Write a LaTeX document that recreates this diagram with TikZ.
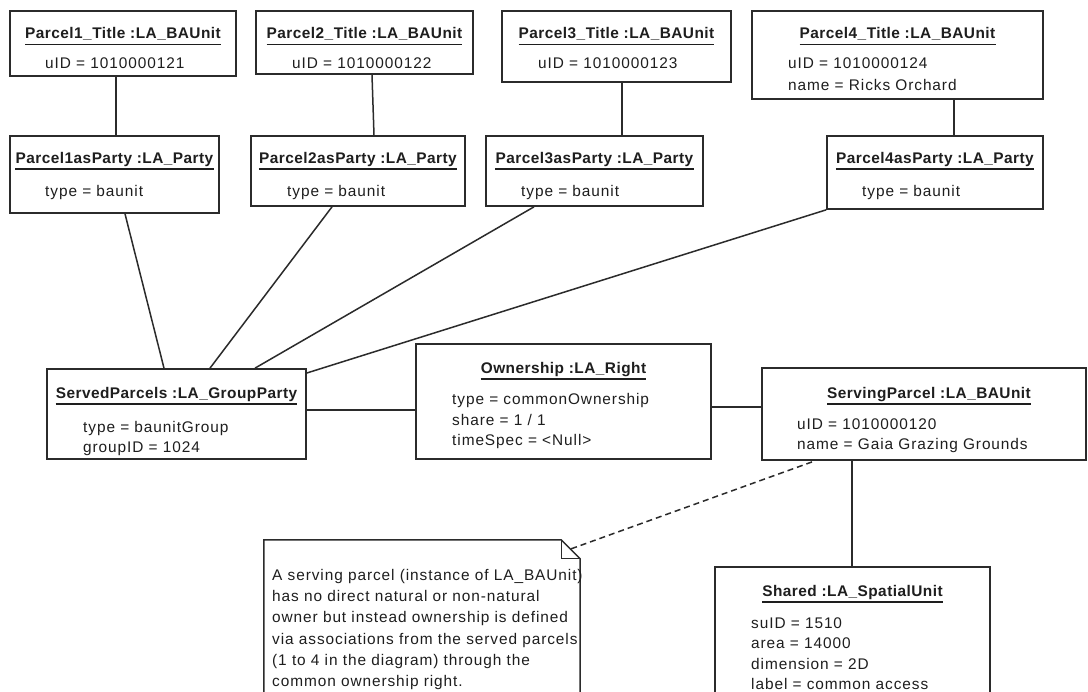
\documentclass[tikz,border=0pt]{standalone}
\usepackage{fontspec}
\setmainfont{Liberation Sans}[LetterSpace=6,BoldFeatures={LetterSpace=3}]
\usetikzlibrary{positioning}
\definecolor{umlline}{HTML}{2B2B2B}
\definecolor{umltext}{HTML}{1E1E1E}

\begin{document}
\begin{tikzpicture}[x=1pt,y=-1pt,
  obj box/.style={draw=umlline,line width=1.7pt,rectangle,inner sep=0pt},
  head/.style={font=\fontsize{15.4}{21}\selectfont\bfseries,text=umltext,inner sep=0pt,anchor=base},
  attr/.style={font=\fontsize{15.4}{21}\selectfont,text=umltext,inner sep=0pt,anchor=base west},
  link/.style={draw=umlline,line width=1.5pt},
  uline/.style={draw=umltext,line width=1.6pt}]
  \useasboundingbox (0,0) rectangle (1088,692);
  \clip (0,0) rectangle (1088,692);
  \fill[white] (0,0) rectangle (1088,692);

  % titles
  \node[obj box,minimum width=226pt,minimum height=65pt] (t1) at (123,43.5) {};
  \node[obj box,minimum width=217pt,minimum height=63pt] (t2) at (364.5,42.5) {};
  \node[obj box,minimum width=229pt,minimum height=71pt] (t3) at (616.5,46.5) {};
  \node[obj box,minimum width=291pt,minimum height=88pt] (t4) at (897.5,55) {};
  \node[head] (t1h) at (123,39) {Parcel1\_Title :LA\_BAUnit};
  \node[head] (t2h) at (364.5,39) {Parcel2\_Title :LA\_BAUnit};
  \node[head] (t3h) at (616.5,39) {Parcel3\_Title :LA\_BAUnit};
  \node[head] (t4h) at (897.5,39) {Parcel4\_Title :LA\_BAUnit};
  \node[attr] (t1a) at (45,68.5) {uID = 1010000121};
  \node[attr] (t2a) at (292,68.5) {uID = 1010000122};
  \node[attr] (t3a) at (538,68.5) {uID = 1010000123};
  \node[attr] (t4a) at (788,68.5) {uID = 1010000124};
  \node[attr] (t4b) at (788,90.5) {name = Ricks Orchard};

  % parties
  \node[obj box,minimum width=209pt,minimum height=77pt] (p1) at (114.5,174.5) {};
  \node[obj box,minimum width=214pt,minimum height=70pt] (p2) at (358,171) {};
  \node[obj box,minimum width=217pt,minimum height=70pt] (p3) at (594.5,171) {};
  \node[obj box,minimum width=216pt,minimum height=73pt] (p4) at (935,172.5) {};
  \node[head] (p1h) at (114.5,163.5) {Parcel1asParty :LA\_Party};
  \node[head] (p2h) at (358,163.5) {Parcel2asParty :LA\_Party};
  \node[head] (p3h) at (594.5,163.5) {Parcel3asParty :LA\_Party};
  \node[head] (p4h) at (935,163.5) {Parcel4asParty :LA\_Party};
  \node[attr] (p1a) at (45,197) {type = baunit};
  \node[attr] (p2a) at (287,197) {type = baunit};
  \node[attr] (p3a) at (521,197) {type = baunit};
  \node[attr] (p4a) at (862,197) {type = baunit};

  % group, right, serving parcel, spatial unit
  \node[obj box,minimum width=259pt,minimum height=90pt] (sp) at (176.5,414) {};
  \node[head] (sph) at (176.5,398.5) {ServedParcels :LA\_GroupParty};
  \node[attr] (spa) at (83,432.5) {type = baunitGroup};
  \node[attr] (spb) at (83,452.5) {groupID = 1024};

  \node[obj box,minimum width=295pt,minimum height=115pt] (ow) at (563.5,401.5) {};
  \node[head] (owh) at (563.5,373.5) {Ownership :LA\_Right};
  \node[attr] (owa) at (452,404.5) {type = commonOwnership};
  \node[attr] (owb) at (452,425.5) {share = 1 / 1};
  \node[attr] (owc) at (452,445.5) {timeSpec = <Null>};

  \node[obj box,minimum width=324pt,minimum height=92pt] (sv) at (924,414) {};
  \node[head] (svh) at (929,398.5) {ServingParcel :LA\_BAUnit};
  \node[attr] (sva) at (797,429.5) {uID = 1010000120};
  \node[attr] (svb) at (797,449.5) {name = Gaia Grazing Grounds};

  \node[obj box,minimum width=275pt,minimum height=153pt] (sh) at (852.5,643.5) {};
  \node[head] (shh) at (852.5,596.5) {Shared :LA\_SpatialUnit};
  \node[attr] (sha) at (751,628) {suID = 1510};
  \node[attr] (shb) at (751,648.5) {area = 14000};
  \node[attr] (shc) at (751,669) {dimension = 2D};
  \node[attr] (shd) at (751,689.3) {label = common access};

  % note
  \node[minimum width=316pt,minimum height=180pt,inner sep=0pt] (nt) at (422,630) {};
  \draw[umlline,line width=1.5pt] (nt.south west) -- (nt.north west) -- ([xshift=-19pt]nt.north east)
    -- ([yshift=-19pt]nt.north east) -- (nt.south east);
  \draw[umlline,line width=1.2pt] ([xshift=-19pt]nt.north east) |- ([yshift=-19pt]nt.north east);
  \foreach \ln [count=\i] in {{A serving parcel (instance of LA\_BAUnit)},
      {has no direct natural or non-natural},{owner but instead ownership is defined},
      {via associations from the served parcels},{(1 to 4 in the diagram) through the},
      {common ownership right.}}
    \node[attr] (nl\i) at (272,559.3+21.2*\i) {\ln};

  \foreach \h in {t1h,t2h,t3h,t4h,p1h,p2h,p3h,p4h,sph,owh,svh,shh}
    \draw[uline] ([yshift=-5.5pt]\h.base west) -- ([yshift=-5.5pt]\h.base east);

  % links
  \draw[link] (t1.south -| 116,0) -- (p1.north -| 116,0);
  \draw[link] (t2.south -| 372,0) -- (p2.north -| 374,0);
  \draw[link] (t3.south -| 622,0) -- (p3.north -| 622,0);
  \draw[link] (t4.south -| 954,0) -- (p4.north -| 954,0);
  \draw[link] (p1.south -| 125,0) -- (sp.north -| 164,0);
  \draw[link] (p2.south -| 332,0) -- (sp.north -| 210,0);
  \draw[link] (p3.south -| 534,0) -- (sp.north -| 255,0);
  \draw[link] (p4.south west) -- (sp.east |- 0,373);
  \draw[link] (sp.east |- 0,410) -- (ow.west |- 0,410);
  \draw[link] (ow.east |- 0,407) -- (sv.west |- 0,407);
  \draw[link] (sv.south -| 852,0) -- (sh.north -| 852,0);
  \draw[link,dashed,dash pattern=on 6pt off 4pt] ([xshift=-9pt,yshift=-9pt]nt.north east) -- (sv.south -| 815,0);
\end{tikzpicture}
\end{document}
